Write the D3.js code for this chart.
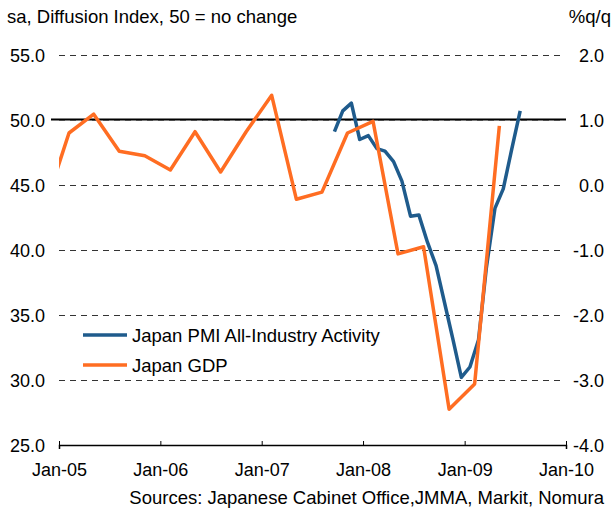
<!DOCTYPE html>
<html lang="en">
<head>
<meta charset="UTF-8">
<title>Japan PMI vs GDP</title>
<style>
  body { margin: 0; background: #fff; }
  svg text { font-family: "Liberation Sans", Arial, sans-serif; fill: #000; }
</style>
</head>
<body>
<script src="https://d3js.org/d3.v7.min.js"></script>
<script>
// quarterly GDP, %q/q (right axis)
var gdpQuarters = ["2004Q4", "2005Q1", "2005Q2", "2005Q3", "2005Q4", "2006Q1", "2006Q2", "2006Q3", "2006Q4",
                   "2007Q1", "2007Q2", "2007Q3", "2007Q4", "2008Q1", "2008Q2", "2008Q3", "2008Q4", "2009Q1", "2009Q2"];
var gdpValues = [-0.41, 0.80, 1.09, 0.52, 0.45, 0.23, 0.82, 0.20, 0.82,
                 1.38, -0.22, -0.11, 0.80, 0.98, -1.06, -0.95, -3.45, -3.06, 0.91];

// monthly PMI all-industry, diffusion index (left axis)
var pmiMonths = ["2007-09", "2007-10", "2007-11", "2007-12", "2008-01", "2008-02", "2008-03", "2008-04",
                 "2008-05", "2008-06", "2008-07", "2008-08", "2008-09", "2008-10", "2008-11", "2008-12",
                 "2009-01", "2009-02", "2009-03", "2009-04", "2009-05", "2009-06", "2009-07"];
var pmiValues = [49.1, 50.7, 51.3, 48.5, 48.8, 47.8, 47.6, 46.8,
                 45.3, 42.6, 42.7, 40.6, 38.8, 36.0, 33.1, 30.2,
                 31.0, 33.1, 38.6, 43.2, 44.7, 47.8, 50.7];

var leftTicks = [25, 30, 35, 40, 45, 50, 55];
var rightTicks = [-4, -3, -2, -1, 0, 1, 2];
var xTickYears = [2005, 2006, 2007, 2008, 2009, 2010];

var width = 615, height = 512;
var plot = { left: 59, right: 566, top: 55, bottom: 445 };
var blue = "#1f5b8c", orange = "#ff6d22";

var svg = d3.select("body").append("svg").attr("width", width).attr("height", height);

var x = d3.scaleTime()
    .domain([new Date(2005, 0, 1), new Date(2010, 0, 1)])
    .range([plot.left, plot.right]);
var yL = d3.scaleLinear().domain([25, 55]).range([plot.bottom, plot.top]);
var yR = d3.scaleLinear().domain([-4, 2]).range([plot.bottom, plot.top]);

// points: GDP near start of mid-quarter month, PMI late in the month
function quarterDate(q) {
    var yr = +q.slice(0, 4), n = +q.slice(5);
    return new Date(yr, (n - 1) * 3 + 1, 6);
}
function monthDate(m) {
    return new Date(+m.slice(0, 4), +m.slice(5) - 1, 20);
}

var gdp = gdpQuarters.map(function(q, i) { return { date: quarterDate(q), value: gdpValues[i] }; });
var pmi = pmiMonths.map(function(m, i) { return { date: monthDate(m), value: pmiValues[i] }; });

// titles
svg.append("text").attr("x", 7).attr("y", 23).style("font-size", "18.5px")
    .text("sa, Diffusion Index, 50 = no change");
svg.append("text").attr("x", 611).attr("y", 23).attr("text-anchor", "end").style("font-size", "18.5px")
    .text("%q/q");

// dashed gridlines
svg.append("g").selectAll("line")
    .data(leftTicks.filter(function(d) { return d > 25; }))
    .enter().append("line")
    .attr("x1", plot.left).attr("x2", plot.right - 6)
    .attr("y1", function(d) { return Math.round(yL(d)) + 0.5; })
    .attr("y2", function(d) { return Math.round(yL(d)) + 0.5; })
    .attr("stroke", function(d) { return d === 50 ? "#999" : "#333"; })
    .attr("stroke-width", 1)
    .attr("stroke-dasharray", "6,5");

// left labels
svg.append("g").selectAll("text")
    .data(leftTicks)
    .enter().append("text")
    .attr("x", 45)
    .attr("y", function(d) { return yL(d) + 6.5; })
    .attr("text-anchor", "end")
    .style("font-size", "18px")
    .text(function(d) { return d.toFixed(1); });

// right labels
svg.append("g").selectAll("text")
    .data(rightTicks)
    .enter().append("text")
    .attr("x", 604)
    .attr("y", function(d) { return yR(d) + 6.5; })
    .attr("text-anchor", "end")
    .style("font-size", "18px")
    .text(function(d) { return d.toFixed(1); });

// x axis
var xAxis = d3.axisBottom(x)
    .tickValues(xTickYears.map(function(y) { return new Date(y, 0, 1); }))
    .tickFormat(d3.timeFormat("%b-%y"))
    .tickSizeInner(-4)
    .tickSizeOuter(4)
    .tickPadding(12);
var gx = svg.append("g").attr("transform", "translate(0," + plot.bottom + ")").call(xAxis);
gx.select(".domain").attr("stroke", "#000").attr("stroke-width", 1.5);
gx.selectAll(".tick line").attr("stroke", "#000");
gx.selectAll(".tick text").style("font-size", "18px").attr("dy", "1.05em")
    .style("font-family", "'Liberation Sans', Arial, sans-serif").attr("fill", "#000");

// 50 line
svg.append("line")
    .attr("x1", 51).attr("x2", plot.right)
    .attr("y1", yL(50) - 0.5).attr("y2", yL(50) - 0.5)
    .attr("stroke", "#000").attr("stroke-width", 2);

// series
svg.append("clipPath").attr("id", "clip")
    .append("rect").attr("x", plot.left).attr("y", 0)
    .attr("width", plot.right - plot.left).attr("height", plot.bottom);

var pmiLine = d3.line().x(function(d) { return x(d.date); }).y(function(d) { return yL(d.value); });
var gdpLine = d3.line().x(function(d) { return x(d.date); }).y(function(d) { return yR(d.value); });

svg.append("path").datum(pmi)
    .attr("clip-path", "url(#clip)")
    .attr("d", pmiLine)
    .attr("fill", "none").attr("stroke", blue).attr("stroke-width", 3.5)
    .attr("stroke-linejoin", "round");

svg.append("path").datum(gdp)
    .attr("clip-path", "url(#clip)")
    .attr("d", gdpLine)
    .attr("fill", "none").attr("stroke", orange).attr("stroke-width", 3.5)
    .attr("stroke-linejoin", "round");

// legend
var legend = [
    { name: "Japan PMI All-Industry Activity", color: blue, y: 335 },
    { name: "Japan GDP", color: orange, y: 365 }
];
var lg = svg.append("g").selectAll("g").data(legend).enter().append("g");
lg.append("line")
    .attr("x1", 83).attr("x2", 127)
    .attr("y1", function(d) { return d.y; }).attr("y2", function(d) { return d.y; })
    .attr("stroke", function(d) { return d.color; }).attr("stroke-width", 3.5);
lg.append("text")
    .attr("x", 132).attr("y", function(d) { return d.y + 6.5; })
    .style("font-size", "18.5px")
    .text(function(d) { return d.name; });

// source
svg.append("text").attr("x", 604).attr("y", 504).attr("text-anchor", "end").style("font-size", "18.5px")
    .text("Sources: Japanese Cabinet Office,JMMA, Markit, Nomura");
</script>
</body>
</html>
